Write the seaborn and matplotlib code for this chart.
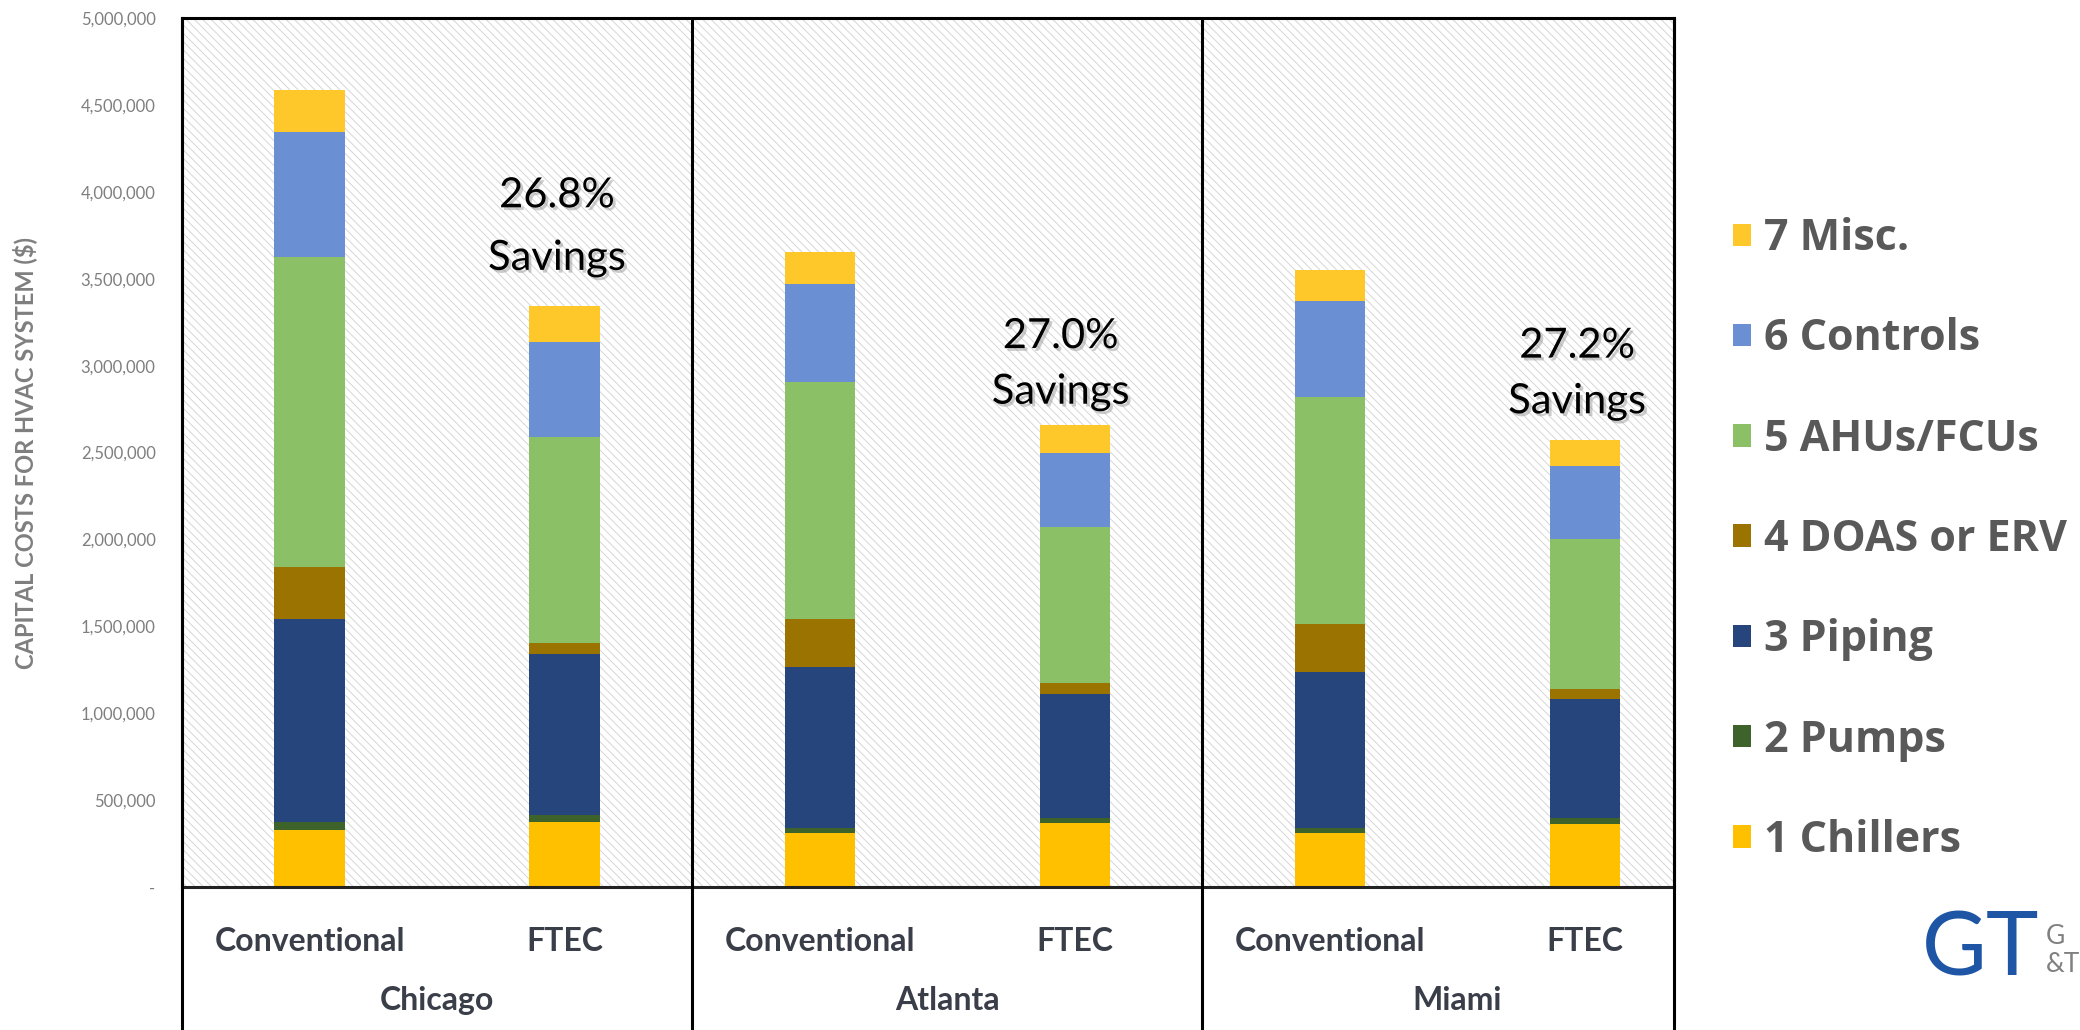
import pandas as pd
import matplotlib.pyplot as plt
import matplotlib.patheffects as pe
from matplotlib.patches import Rectangle, Patch
from matplotlib.ticker import FuncFormatter
import seaborn as sns

cities = ['Chicago', 'Atlanta', 'Miami']
systems = ['Conventional', 'FTEC']
savings = ['26.8%', '27.0%', '27.2%']
components = ['1 Chillers', '2 Pumps', '3 Piping', '4 DOAS or ERV', '5 AHUs/FCUs', '6 Controls', '7 Misc.']

# order of bars: Chicago conv, Chicago FTEC, Atlanta conv, Atlanta FTEC, Miami conv, Miami FTEC
chillers = [329000, 374000, 312000, 367000, 312000, 365000]
pumps = [45000, 40000, 30000, 30000, 30000, 33000]
piping = [1169000, 925000, 923000, 714000, 893000, 684000]
doas = [298000, 67000, 280000, 62000, 279000, 56000]
ahus = [1782000, 1184000, 1363000, 897000, 1306000, 867000]
controls = [719000, 547000, 563000, 429000, 550000, 415000]
misc = [244000, 206000, 181000, 161000, 178000, 151000]

# where the savings notes sit (percent line, "Savings" line)
note_x = [0.97, 2.945, 4.97]
pct_y = [3980000, 3170000, 3115000]
sav_y = [3620000, 2850000, 2795000]

colors = ['#FFC000', '#3D632A', '#26457C', '#9A7300', '#8CC067', '#6A8FD3', '#FFC82A']

sns.set_style('white')
plt.rcParams['font.family'] = ['Lato', 'DejaVu Sans']
plt.rcParams['hatch.linewidth'] = 0.7

bars = [c + ' ' + s for c in cities for s in systems]
rows = []
for comp, vals in zip(components, [chillers, pumps, piping, doas, ahus, controls, misc]):
    for b, v in zip(bars, vals):
        rows.append({'bar': b, 'component': comp, 'value': v})
df = pd.DataFrame(rows)
df['top'] = df.groupby('bar')['value'].cumsum()

fig = plt.figure(figsize=(20.8, 10.3), dpi=100)
ax = fig.add_axes([0.0875, 0.1388, 0.7173, 0.8437])

# hatched background
ax.add_patch(Rectangle((0, 0), 1, 1, transform=ax.transAxes, facecolor='white',
                       edgecolor='#d6d6d6', hatch='\\\\\\\\', lw=0, zorder=0))

# stacked bars: draw cumulative tops from the top layer down
for comp, col in reversed(list(zip(components, colors))):
    sns.barplot(data=df[df['component'] == comp], x='bar', y='top', order=bars,
                color=col, saturation=1, width=0.275, errorbar=None, linewidth=0,
                ax=ax, zorder=2)

ax.set_xlim(-0.5, 5.35)
ax.set_ylim(0, 5000000)
ax.set_yticks(range(0, 5000001, 500000))
ax.yaxis.set_major_formatter(FuncFormatter(lambda v, p: '-' if v == 0 else f'{v:,.0f}'))
ax.tick_params(axis='y', length=0, pad=19, labelsize=12, labelcolor='#7f7f7f')
ax.set_xticks(range(6))
ax.set_xticklabels(systems * 3, fontsize=23, fontweight='bold', color='#3a3e48')
ax.tick_params(axis='x', length=0, pad=29)
ax.set_xlabel('')
ax.set_ylabel('CAPITAL COSTS FOR HVAC SYSTEM ($)', fontsize=17, fontweight='bold', color='#7f7f7f')
ax.yaxis.set_label_coords(-0.097, 0.5)

for s in ax.spines.values():
    s.set_linewidth(2.2)
    s.set_color('black')
ax.spines['bottom'].set_color('#222222')

# group separators and the box under the axis
for x in [-0.5, 1.5, 3.5, 5.35]:
    ax.axvline(x, ymin=-0.2, ymax=1, color='black', lw=2.2, clip_on=False, zorder=5)

for i, c in enumerate(cities):
    ax.text(2 * i + 0.5, -0.13, c, transform=ax.get_xaxis_transform(), ha='center', va='center',
            fontsize=23, fontweight='bold', color='#3a3e48')

shadow = [pe.withSimplePatchShadow(offset=(2, -2), shadow_rgbFace='#999999', alpha=0.5)]
for s, x, y1, y2 in zip(savings, note_x, pct_y, sav_y):
    ax.text(x, y1, s, ha='center', va='center', fontsize=30, color='black', path_effects=shadow)
    ax.text(x, y2, 'Savings', ha='center', va='center', fontsize=30, color='black', path_effects=shadow)

handles = [Patch(facecolor=c, edgecolor='none', label=l) for c, l in zip(colors, components)]
leg = fig.legend(handles=handles[::-1], loc='upper left', bbox_to_anchor=(0.8226, 0.81),
                 frameon=False, borderpad=0, handlelength=0.42, handleheight=0.42,
                 handletextpad=0.3, labelspacing=1.33,
                 prop={'family': 'Open Sans', 'weight': 'bold', 'size': 31})
for t in leg.get_texts():
    t.set_color('#595959')

# logo in the corner
fig.text(1922 / 2080, 1 - 950 / 1030, 'GT', fontsize=64, color='#1F55A5', ha='left', va='center')
fig.text(2046 / 2080, 1 - 936 / 1030, 'G', fontsize=19, color='#808080', ha='left', va='center')
fig.text(2046 / 2080, 1 - 964 / 1030, '&T', fontsize=19, color='#808080', ha='left', va='center')

fig.savefig('out.png', dpi=100)
